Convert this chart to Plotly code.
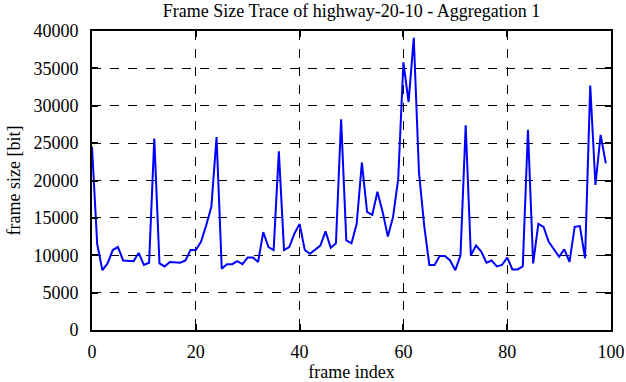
import plotly.graph_objects as go

frame_index = list(range(100))
frame_size = [
    24500, 11500, 8000, 8900, 10700, 11100, 9300, 9200, 9200, 10300,
    8700, 9000, 25600, 8900, 8500, 9100, 9100, 9000, 9300, 10700,
    10700, 11800, 14000, 16500, 25800, 8200, 8800, 8800, 9200, 8800,
    9700, 9700, 9100, 13100, 11100, 10700, 23900, 10700, 11100, 12900,
    14200, 10700, 10200, 10800, 11300, 13200, 11000, 11600, 28200, 12000,
    11600, 14200, 22400, 15800, 15400, 18500, 15800, 12500, 15100, 20200,
    35800, 30500, 39100, 21100, 14000, 8700, 8700, 9900, 9900, 9300,
    8000, 10000, 27400, 10000, 11300, 10500, 9000, 9300, 8500, 8700,
    9700, 8100, 8100, 8500, 26800, 8900, 14200, 13800, 11800, 10800,
    9800, 10800, 9100, 13800, 13900, 9600, 32700, 19400, 26100, 22300,
]

x_ticks = [0, 20, 40, 60, 80, 100]
y_ticks = [0, 5000, 10000, 15000, 20000, 25000, 30000, 35000, 40000]

font_family = "Liberation Serif, Times New Roman, serif"
fsize = 18

fig = go.Figure(
    go.Scatter(
        x=frame_index, y=frame_size, mode="lines",
        line=dict(color="#0000ff", width=2), showlegend=False,
    )
)

axis_common = dict(
    showline=True, linecolor="black", linewidth=2, mirror="ticks",
    ticks="inside", ticklen=6, tickcolor="black", tickwidth=1.5,
    showgrid=True, gridcolor="black", griddash="dash", gridwidth=1,
    zeroline=False, automargin=False,
    tickfont=dict(family=font_family, size=fsize, color="black"),
)

fig.update_xaxes(
    range=[0, 100], tickvals=x_ticks, ticktext=[str(v) for v in x_ticks],
    ticklabelstandoff=4,
    title=dict(text="frame index", font=dict(family=font_family, size=fsize, color="black"), standoff=4),
    **axis_common,
)
fig.update_yaxes(
    range=[0, 40000], tickvals=y_ticks, ticktext=[str(v) for v in y_ticks],
    ticklabelstandoff=8,
    title=dict(text="frame size [bit]", font=dict(family=font_family, size=fsize, color="black"), standoff=8),
    **axis_common,
)

fig.update_layout(
    width=626, height=382,
    margin=dict(l=92, r=15, t=31, b=52),
    paper_bgcolor="white", plot_bgcolor="white",
    title=dict(
        text="Frame Size Trace of highway-20-10 - Aggregation 1",
        font=dict(family=font_family, size=fsize, color="black"),
        x=0.5, xref="paper", xanchor="center",
        y=1 - 4 / 382, yref="container", yanchor="top", automargin=False,
    ),
)

fig.write_html(
    "out.html",
    config={"displayModeBar": False},
    post_script="document.body.style.margin='0px';document.body.style.overflow='hidden';",
)
